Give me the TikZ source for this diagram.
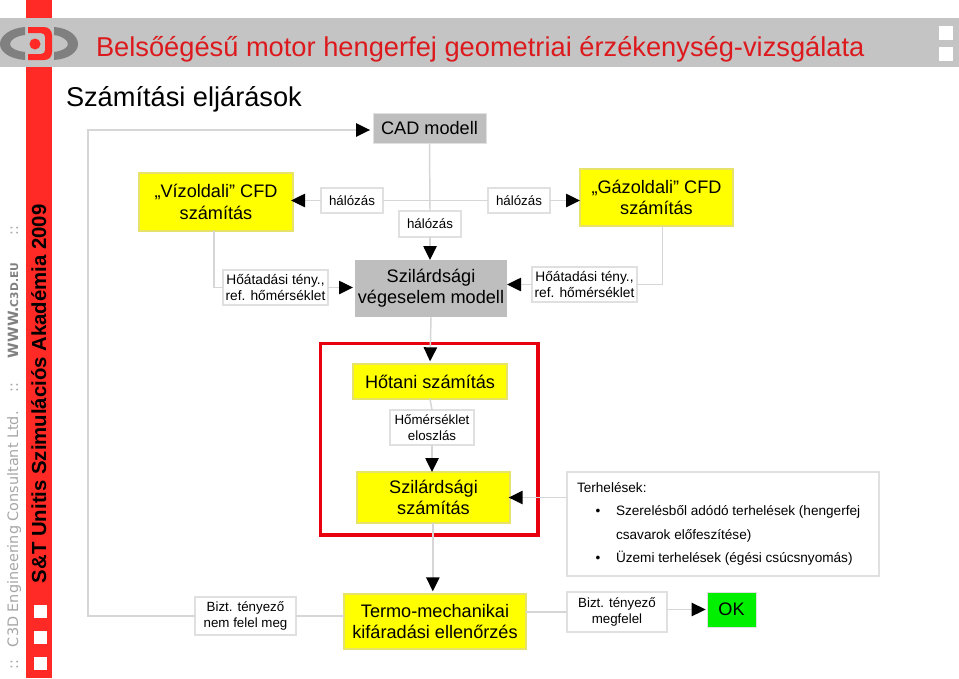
\documentclass[tikz,border=0pt]{standalone}
\usepackage{fontspec}
\setmainfont{Liberation Sans}
\newfontfamily\dvfont{DejaVu Sans}
\usetikzlibrary{arrows.meta}
\definecolor{cline}{HTML}{D6D6D6}
\definecolor{cbord}{HTML}{E0E0E0}
\definecolor{cyel}{HTML}{FFFF00}
\definecolor{cybord}{HTML}{E6E26A}
\definecolor{cgray}{HTML}{BEBEBE}
\definecolor{cband}{HTML}{C4C4C4}
\definecolor{cstripe}{HTML}{FF2A25}
\definecolor{ctitle}{HTML}{DC1A1E}
\definecolor{cred}{HTML}{E8000F}
\definecolor{cgreen}{HTML}{00F000}
\definecolor{clogo}{HTML}{808080}
\definecolor{cside}{HTML}{A6A6A6}
\tikzset{
  x=0.75pt,y=-0.75pt,
  base/.style={inner sep=0pt,outer sep=0pt,align=center,text=black},
  big/.style={base,font=\fontsize{13.6}{16}\selectfont},
  small/.style={base,font=\fontsize{10}{12}\selectfont},
  heat/.style={base,font=\fontsize{10.3}{12}\selectfont},
  mid/.style={base,font=\fontsize{10}{12}\selectfont},
  yel/.style={big,fill=cyel,draw=cybord,line width=0.8pt},
  grayb/.style={big,fill=cgray},
  lab/.style={fill=white,draw=cbord,line width=0.8pt},
  conn/.style={draw=cline,line width=1.1pt},
  arr/.style={conn,-{Triangle[black,length=10.5pt,width=10pt]}},
  sidetxt/.style={base,rotate=90,text=cside,font=\dvfont\fontsize{10.8}{12}\selectfont},
}
% name, style, x1, y1, x2, y2, text
\newcommand{\bxn}[7]{%
  \pgfmathsetmacro{\bxw}{(#5-#3)*0.75}%
  \pgfmathsetmacro{\bxh}{(#6-#4)*0.75}%
  \node[#2,minimum width=\bxw pt,minimum height=\bxh pt] (#1) at ({(#3+#5)/2},{(#4+#6)/2}) {#7};%
}
\begin{document}
\begin{tikzpicture}
\useasboundingbox (0,0) rectangle (959,678);
\fill[white] (0,0) rectangle (959,678);
% side stripe and top band
\fill[cstripe] (26,0) rectangle (52,678);
\fill[cband] (0,18) rectangle (959,67);
\fill[white] (939,26) rectangle (953,40);
\fill[white] (939,47) rectangle (953,61);
\foreach \yy in {605,631,657} \fill[white] (34,\yy) rectangle (47,\yy+13);
% logo
\fill[clogo] (25,27) .. controls (10,28) and (0,36) .. (0,44) .. controls (0,52) and (10,59) .. (25,60) -- (25,52) .. controls (16,51) and (10,48) .. (10,44) .. controls (10,40) and (16,36) .. (25,35) -- cycle;
\fill[clogo] (54,27) .. controls (69,28) and (78,36) .. (78,44) .. controls (78,52) and (69,59) .. (54,60) -- (54,52) .. controls (62,51) and (68,48) .. (68,44) .. controls (68,40) and (62,36) .. (54,35) -- cycle;
\fill[cstripe,even odd rule] (28,27) -- (44,27) .. controls (49,27) and (52,31) .. (52,35) -- (52,52) .. controls (52,57) and (49,60) .. (44,60) -- (28,60) -- (28,54) -- (41,54) .. controls (44,54) and (45,52) .. (45,50) -- (45,37) .. controls (45,35) and (44,33) .. (41,33) -- (28,33) -- cycle;
\fill[cstripe] (35,44) circle (5.5);
% titles
\node[base,anchor=base west,text=ctitle,font=\fontsize{20.45}{24}\selectfont] (title) at (96,56) {Belsőégésű motor hengerfej geometriai érzékenység-vizsgálata};
\node[base,anchor=base west,font=\fontsize{20.4}{24}\selectfont] (sub) at (66,106) {Számítási eljárások};
% side texts
\node[base,rotate=90,anchor=base west,font=\bfseries\fontsize{15.25}{16}\selectfont] (akad) at (46,583) {S\&T Unitis Szimulációs Akadémia 2009};
\node[sidetxt,anchor=base west] (s1) at (18,669) {::};
\node[sidetxt,anchor=base west] (s2) at (18,647) {C3D Engineering Consultant Ltd.};
\node[sidetxt,anchor=base west] (s3) at (18,392) {::};
\node[sidetxt,anchor=base west,text=clogo,font=\dvfont\bfseries\fontsize{10.6}{12}\selectfont] (s4) at (18,358) {WWW.{\fontsize{8}{10}\selectfont C3D.EU}};
\node[sidetxt,anchor=base west] (s5) at (18,235) {::};
% red frame
\draw[cred,line width=2.4pt] (320.5,343.5) rectangle (538,535);
% nodes
\bxn{cad}{grayb,draw=cbord}{373}{113}{486}{143}{CAD modell}
\bxn{viz}{yel}{139}{173}{293}{231}{„Vízoldali” CFD\\számítás}
\bxn{hl}{mid,lab}{321}{188}{383}{213}{hálózás}
\bxn{hc}{mid,lab}{399}{211}{461}{237}{hálózás}
\bxn{hr}{mid,lab}{488}{188}{550}{213}{hálózás}
\bxn{gaz}{yel}{580}{169}{733}{226}{„Gázoldali” CFD\\számítás}
\bxn{hol}{heat,lab}{223}{270}{328}{305}{Hőátadási tény.,\\ref. hőmérséklet}
\bxn{szv}{grayb}{355}{260}{507}{317}{Szilárdsági\\végeselem modell}
\bxn{hor}{heat,lab}{532}{267}{637}{302}{Hőátadási tény.,\\ref. hőmérséklet}
\bxn{hot}{yel}{353}{364}{507}{399}{Hőtani számítás}
\bxn{hom}{small,lab}{390}{410}{474}{445}{Hőmérséklet\\eloszlás}
\bxn{szs}{yel}{357}{472}{510}{523}{Szilárdsági\\számítás}
\bxn{ter}{small,lab}{567}{472}{879}{576}{\begin{minipage}{219pt}\raggedright\fontsize{10.2}{17.6}\selectfont
Terhelések:\\
\hspace*{14pt}\textbullet\hspace*{11.7pt}Szerelésből adódó terhelések (hengerfej\\
\hspace*{29.3pt}csavarok előfeszítése)\\
\hspace*{14pt}\textbullet\hspace*{11.7pt}Üzemi terhelések (égési csúcsnyomás)\end{minipage}}
\bxn{tmk}{yel}{344}{594}{526}{649}{Termo-mechanikai\\kifáradási ellenőrzés}
\bxn{bl}{small,lab}{195}{597}{296}{635}{Bizt. tényező\\nem felel meg}
\bxn{br}{small,lab}{567}{592}{667}{632}{Bizt. tényező\\megfelel}
\bxn{ok}{big,fill=cgreen,draw=cbord}{707}{592}{756}{627}{OK}
% connectors
\coordinate (fbc) at (88,130);
\draw[arr,shorten >=2.2pt] (bl.west) -| (fbc) -- ([yshift=-1.5pt]cad.west);
\draw[conn] (cad.south) -- (hc.north);
\draw[conn] (hl.east) -- (hr.west);
\draw[arr] (hc.south) -- (szv.north -| hc.south);
\draw[arr,shorten >=-1.5pt] (hl.west) -- (hl.west -| viz.east);
\draw[arr] (hr.east) -- (hr.east -| gaz.west);
\draw[conn] ([xshift=-1.5pt]viz.south) |- (hol.west);
\draw[arr,shorten >=1.5pt] (hol.east) -- (hol.east -| szv.west);
\draw[conn] ([xshift=4.5pt]gaz.south) |- (hor.east);
\draw[arr] (hor.west) -- (hor.west -| szv.east);
\draw[arr,shorten >=2pt] (szv.south) -- (hot.north);
\draw[conn] (hot.south) -- (hom.north);
\draw[arr] (hom.south) -- (hom.south |- szs.north);
\draw[arr,shorten >=2pt] ([xshift=-.5pt]szs.south) -- ([xshift=-.5pt]szs.south |- tmk.north);
\draw[arr,shorten >=-1pt] (ter.west |- szs.east) -- (szs.east);
\draw[conn] (tmk.east |- br.west) -- (br.west);
\draw[conn] (tmk.west |- bl.east) -- (bl.east);
\draw[arr,shorten >=1pt] (br.east |- ok.west) -- (ok.west);
\end{tikzpicture}
\end{document}
